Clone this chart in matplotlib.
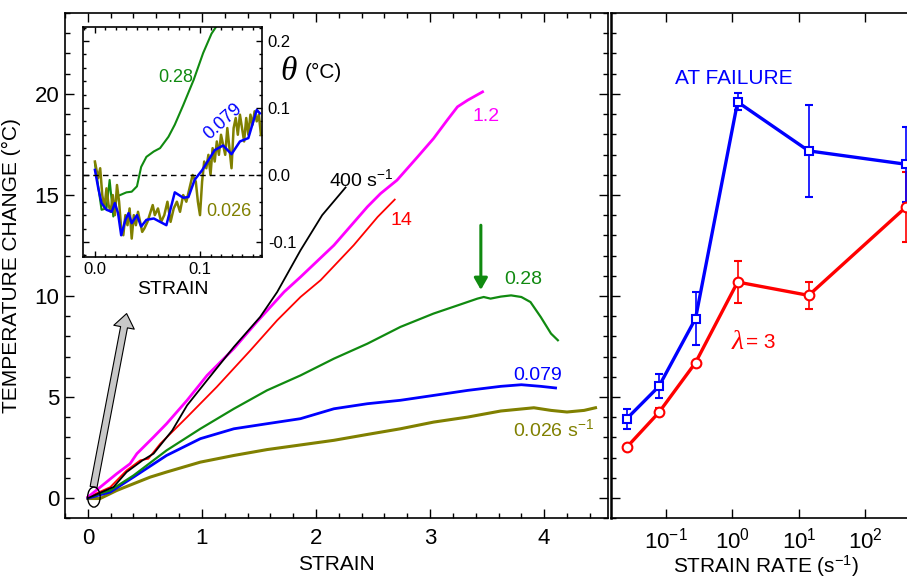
import matplotlib
matplotlib.use("Agg")
import matplotlib.pyplot as plt
from matplotlib.ticker import MultipleLocator, LogLocator, NullLocator, NullFormatter, FormatStrFormatter
from matplotlib.patches import Ellipse

plt.rcParams['font.family'] = ['Liberation Sans', 'DejaVu Sans']
plt.rcParams['mathtext.fontset'] = 'custom'
plt.rcParams['mathtext.rm'] = 'Liberation Sans'
plt.rcParams['mathtext.it'] = 'Liberation Sans:italic'
plt.rcParams['mathtext.bf'] = 'Liberation Sans:bold'
plt.rcParams['axes.unicode_minus'] = False

# temperature change vs strain, one curve per strain rate
strain_400 = [0.0, 0.225, 0.34, 0.48, 0.576, 0.74, 0.87, 1.045, 1.28, 1.51, 1.66, 1.864, 2.054, 2.259]
temp_400 = [0.0, 0.55, 1.29, 1.87, 2.2, 3.35, 4.59, 5.83, 7.48, 8.96, 10.2, 12.26, 14.0, 15.37]

strain_1p2 = [0.0, 0.108, 0.254, 0.37, 0.43, 0.576, 0.69, 0.87, 1.045, 1.28, 1.48, 1.72, 1.864,
              2.157, 2.45, 2.566, 2.71, 2.89, 3.03, 3.15, 3.24, 3.33, 3.46]
temp_1p2 = [0.05, 0.54, 1.21, 1.70, 2.2, 3.02, 3.68, 4.84, 6.07, 7.40, 8.71, 10.2, 10.94,
            12.51, 14.41, 15.07, 15.73, 16.88, 17.79, 18.70, 19.36, 19.69, 20.1]

strain_14 = [0.0, 0.196, 0.34, 0.46, 0.53, 0.635, 0.87, 1.13, 1.425, 1.66, 1.864, 2.04, 2.33, 2.54, 2.69]
temp_14 = [0.04, 0.54, 1.37, 1.87, 1.95, 2.69, 4.01, 5.50, 7.31, 8.80, 9.95, 10.78, 12.51, 13.91, 14.77]

strain_0p28 = [0.0, 0.196, 0.40, 0.69, 0.986, 1.28, 1.57, 1.864, 2.157, 2.45, 2.74, 3.03, 3.27,
               3.415, 3.47, 3.53, 3.62, 3.71, 3.80, 3.88, 3.97, 4.06, 4.12]
temp_0p28 = [0.04, 0.38, 1.12, 2.36, 3.43, 4.42, 5.33, 6.07, 6.90, 7.64, 8.47, 9.13, 9.59,
             9.87, 9.95, 9.87, 9.97, 10.03, 9.95, 9.70, 8.96, 8.14, 7.81]

strain_0p079 = [0.0, 0.196, 0.40, 0.69, 0.986, 1.28, 1.57, 1.864, 2.157, 2.45, 2.74, 3.03, 3.33,
                3.62, 3.80, 3.97, 4.10]
temp_0p079 = [0.0, 0.30, 1.04, 2.11, 2.94, 3.43, 3.68, 3.93, 4.42, 4.67, 4.84, 5.08, 5.33,
              5.53, 5.61, 5.53, 5.45]

strain_0p026 = [0.0, 0.108, 0.254, 0.40, 0.547, 0.69, 0.986, 1.28, 1.57, 1.864, 2.157, 2.45, 2.74,
                3.03, 3.33, 3.62, 3.91, 4.06, 4.20, 4.35, 4.45]
temp_0p026 = [-0.02, -0.02, 0.38, 0.71, 1.04, 1.29, 1.78, 2.11, 2.40, 2.63, 2.86, 3.15, 3.43,
              3.76, 4.01, 4.31, 4.47, 4.34, 4.26, 4.34, 4.47]

# inset: small-strain detail (theta, degC)
in_strain_0p28 = [0.0, 0.0063, 0.011, 0.014, 0.0175, 0.021, 0.024, 0.030, 0.035, 0.040, 0.044,
                  0.049, 0.056, 0.062, 0.070, 0.076, 0.084, 0.094, 0.103, 0.111, 0.117]
in_theta_0p28 = [0.0174, -0.052, -0.05, -0.0075, -0.062, -0.032, -0.030, -0.026, -0.025, -0.017,
                 0.012, 0.027, 0.035, 0.040, 0.057, 0.075, 0.104, 0.142, 0.182, 0.211, 0.225]

in_strain_0p079 = [0.0, 0.0032, 0.0063, 0.011, 0.016, 0.019, 0.022, 0.025, 0.029, 0.032, 0.035,
                   0.040, 0.044, 0.049, 0.056, 0.062, 0.068, 0.076, 0.084, 0.089, 0.095, 0.102,
                   0.108, 0.114, 0.122, 0.130, 0.138, 0.146, 0.154, 0.157]
in_theta_0p079 = [0.0075, -0.02, -0.042, -0.052, -0.055, -0.042, -0.057, -0.09, -0.067, -0.057,
                  -0.072, -0.060, -0.077, -0.067, -0.065, -0.070, -0.075, -0.026, -0.034, -0.033,
                  -0.007, 0.007, 0.022, 0.037, 0.044, 0.031, 0.050, 0.055, 0.097, 0.092]

in_strain_0p026 = [0.000, 0.003, 0.005, 0.007, 0.009, 0.011, 0.013, 0.015, 0.017, 0.019, 0.021,
                   0.023, 0.025, 0.027, 0.029, 0.031, 0.033, 0.035, 0.037, 0.039, 0.041, 0.043,
                   0.045, 0.047, 0.050, 0.052, 0.055, 0.057, 0.060, 0.063, 0.066, 0.069, 0.072,
                   0.075, 0.078, 0.081, 0.084, 0.087, 0.090, 0.093, 0.096, 0.098, 0.100, 0.102,
                   0.104, 0.106, 0.108, 0.110, 0.112, 0.114, 0.116, 0.118, 0.120, 0.122, 0.124,
                   0.126, 0.128, 0.130, 0.132, 0.134, 0.136, 0.138, 0.140, 0.142, 0.144, 0.146,
                   0.148, 0.150, 0.152, 0.154, 0.156, 0.158]
in_theta_0p026 = [0.02, -0.005, 0.01, -0.03, -0.05, -0.02, -0.045, -0.055, -0.03, -0.06, -0.015,
                  -0.04, -0.08, -0.09, -0.06, -0.075, -0.05, -0.095, -0.06, -0.075, -0.055, -0.07,
                  -0.085, -0.08, -0.07, -0.06, -0.045, -0.06, -0.05, -0.07, -0.06, -0.04, -0.07,
                  -0.05, -0.04, -0.055, -0.03, -0.04, -0.02, 0.00, -0.01, -0.04, -0.06, -0.01,
                  0.02, 0.01, 0.03, 0.00, 0.04, 0.02, 0.05, 0.03, 0.06, 0.045, 0.03,
                  0.07, 0.04, 0.01, 0.07, 0.085, 0.06, 0.09, 0.07, 0.05, 0.085, 0.06,
                  0.09, 0.075, 0.095, 0.08, 0.09, 0.06]

# right panel: temperature change vs strain rate
rates = [0.026, 0.079, 0.28, 1.2, 14, 400]
t_failure = [3.93, 5.53, 8.88, 19.6, 17.18, 16.52]
t_failure_err = [0.5, 0.6, 1.3, 0.42, 2.27, 1.85]
t_lambda3 = [2.52, 4.24, 6.70, 10.69, 10.03, 14.38]
t_lambda3_err = [0.0, 0.2, 0.0, 1.03, 0.66, 1.73]

OLIVE = '#808000'
GREEN = '#108a10'

fig = plt.figure(figsize=(9.07, 5.79), dpi=100)
ax = fig.add_axes([0.0717, 0.1048, 0.5987, 0.8727])
ax2 = fig.add_axes([0.6737, 0.1048, 0.3308, 0.8727])
axin = fig.add_axes([0.0918, 0.5567, 0.1974, 0.3972])

# ---- main panel
ax.plot(strain_0p026, temp_0p026, color=OLIVE, lw=2.2)
ax.plot(strain_0p079, temp_0p079, color='blue', lw=2.0)
ax.plot(strain_0p28, temp_0p28, color=GREEN, lw=1.6)
ax.plot(strain_14, temp_14, color='red', lw=1.3)
ax.plot(strain_1p2, temp_1p2, color='magenta', lw=2.0)
ax.plot(strain_400, temp_400, color='black', lw=1.3)

ax.set_xlim(-0.2, 4.56)
ax.set_ylim(-1, 24)
ax.xaxis.set_major_locator(MultipleLocator(1))
ax.xaxis.set_minor_locator(MultipleLocator(0.2))
ax.yaxis.set_major_locator(MultipleLocator(5))
ax.yaxis.set_minor_locator(MultipleLocator(1))
ax.tick_params(which='both', direction='in', top=True, right=True, width=1)
ax.tick_params(which='major', length=6.5, labelsize=16)
ax.tick_params(which='minor', length=3.5)
ax.tick_params(axis='x', pad=7)
ax.tick_params(axis='y', pad=4)
for s in ax.spines.values():
    s.set_linewidth(1.2)
ax.set_xlabel('STRAIN', fontsize=15)
ax.xaxis.set_label_coords(0.5, -0.072)
ax.set_ylabel('TEMPERATURE CHANGE (\u00b0C)', fontsize=15)
ax.yaxis.set_label_coords(-0.081, 0.5)

ax.text(2.11, 15.8, '400 s$^{\\mathdefault{-1}}$', fontsize=14, color='black', va='center')
ax.text(3.37, 18.86, '1.2', fontsize=14, color='magenta', va='center')
ax.text(2.65, 13.75, '14', fontsize=14, color='red', va='center')
ax.text(3.65, 10.81, '0.28', fontsize=14, color=GREEN, va='center')
ax.text(3.73, 6.07, '0.079', fontsize=14, color='blue', va='center')
ax.text(3.73, 3.39, '0.026 s$^{\\mathdefault{-1}}$', fontsize=14, color=OLIVE, va='center')

ax.annotate('', xy=(3.445, 10.3), xytext=(3.445, 13.5),
            arrowprops=dict(arrowstyle='-|>,head_length=0.35,head_width=0.2',
                            color=GREEN, lw=2.2, mutation_scale=20, shrinkA=0, shrinkB=0))
ax.add_patch(Ellipse((0.053, 0.05), 0.11, 0.99, fill=False, ec='black', lw=1, zorder=5))
ax.annotate('', xy=(0.34, 9.13), xytext=(0.05, 0.55),
            arrowprops=dict(arrowstyle='simple,head_length=0.5,head_width=0.75,tail_width=0.25',
                            fc='#c8c8c8', ec='black', lw=0.8, mutation_scale=20,
                            shrinkA=0, shrinkB=0))

ax.text(1.69, 21.07, '\u03b8', fontsize=24, family='Liberation Serif', style='italic',
        va='center')
ax.text(1.90, 21.07, '(\u00b0C)', fontsize=15, va='center')

# ---- inset
axin.plot(in_strain_0p28, in_theta_0p28, color=GREEN, lw=1.5)
axin.plot(in_strain_0p026, in_theta_0p026, color=OLIVE, lw=1.8)
axin.plot(in_strain_0p079, in_theta_0p079, color='blue', lw=1.8)
axin.axhline(0, color='black', lw=1, ls=(0, (4, 3)))
axin.set_xlim(-0.0111, 0.1593)
axin.set_ylim(-0.122, 0.2213)
axin.xaxis.set_major_locator(MultipleLocator(0.1))
axin.xaxis.set_minor_locator(MultipleLocator(0.01))
axin.yaxis.set_major_locator(MultipleLocator(0.1))
axin.yaxis.set_minor_locator(MultipleLocator(0.02))
axin.xaxis.set_major_formatter(FormatStrFormatter('%.1f'))
axin.yaxis.set_major_formatter(FormatStrFormatter('%.1f'))
axin.tick_params(which='both', direction='in', top=True, right=True, left=True,
                 labelleft=False, labelright=True, width=1)
axin.tick_params(which='major', length=4.5, labelsize=12, pad=4)
axin.tick_params(which='minor', length=2.5)
for s in axin.spines.values():
    s.set_linewidth(1.2)
axin.set_xlabel('STRAIN', fontsize=14, labelpad=3)
axin.text(0.060, 0.146, '0.28', fontsize=13, color=GREEN, va='center')
axin.text(0.122, 0.0796, '0.079', fontsize=13, color='blue', va='center', ha='center',
          rotation=42)
axin.text(0.106, -0.0548, '0.026', fontsize=13, color=OLIVE, va='center')

# ---- right panel
ax2.errorbar(rates, t_lambda3, yerr=t_lambda3_err, fmt='o-', color='red', mfc='white',
             mec='red', ms=7, mew=1.5, lw=2.4, elinewidth=1.2, capsize=3, capthick=1.2)
ax2.errorbar(rates, t_failure, yerr=t_failure_err, fmt='s-', color='blue', mfc='white',
             mec='blue', ms=6, mew=1.5, lw=2.4, elinewidth=1.2, capsize=3, capthick=1.2)
ax2.set_xscale('log')
ax2.set_xlim(10 ** -1.8215, 10 ** 2.685)
ax2.set_ylim(-1, 24)
ax2.xaxis.set_major_locator(LogLocator(base=10, numticks=10))
ax2.xaxis.set_minor_locator(NullLocator())
ax2.yaxis.set_major_locator(MultipleLocator(5))
ax2.yaxis.set_minor_locator(MultipleLocator(1))
ax2.yaxis.set_major_formatter(NullFormatter())
ax2.tick_params(which='both', direction='in', top=True, right=False, width=1)
ax2.tick_params(which='major', length=6.5, labelsize=16)
ax2.tick_params(which='minor', length=3.5)
ax2.tick_params(axis='x', pad=7)
for s in ax2.spines.values():
    s.set_linewidth(1.2)
ax2.spines['left'].set_linewidth(1.8)
ax2.set_xlabel('STRAIN RATE (s$^{\\mathdefault{-1}}$)', fontsize=15)
ax2.xaxis.set_label_coords(0.517, -0.068)
ax2.text(1.057, 20.78, 'AT FAILURE', fontsize=15, color='blue', ha='center', va='center')
ax2.text(0.962, 7.72, '\u03bb', fontsize=20, family='Liberation Serif', style='italic',
         color='red', va='center')
ax2.text(1.6, 7.72, '= 3', fontsize=15, color='red', va='center')

fig.savefig('out.png', dpi=100)
